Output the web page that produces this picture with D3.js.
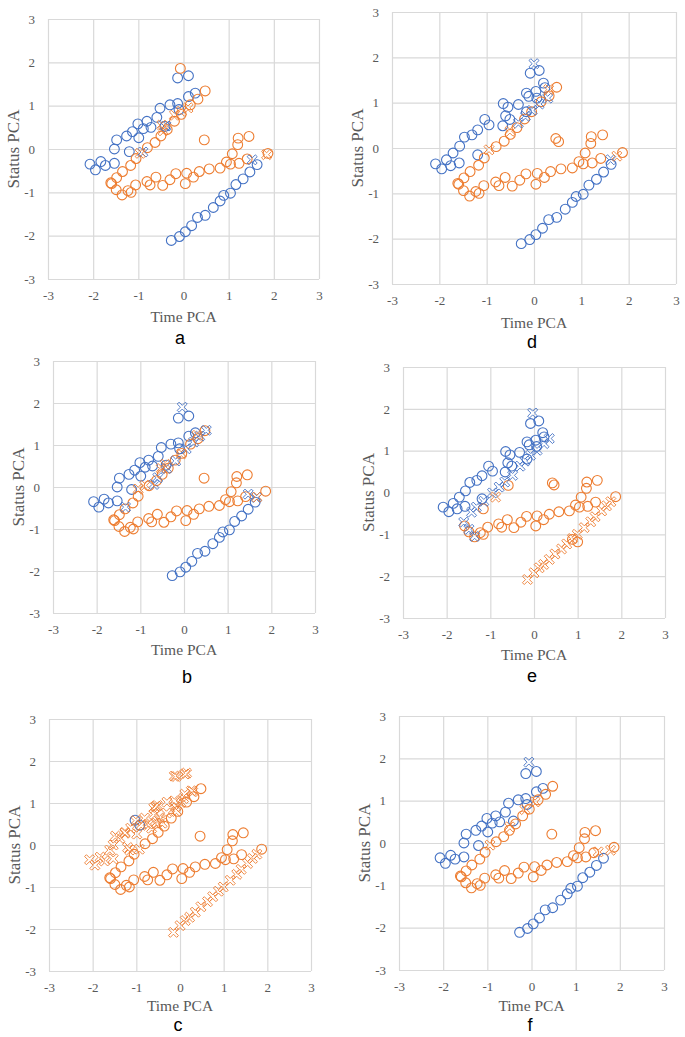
<!DOCTYPE html>
<html><head><meta charset="utf-8">
<script src="https://cdn.jsdelivr.net/npm/d3@7"></script>
<style>body{margin:0;background:#fff}svg{display:block}</style>
</head><body>
<svg id="chart" width="685" height="1037"></svg>
<script>
// ---------- data ----------
const tickValues = [-3, -2, -1, 0, 1, 2, 3];
const xTitle = "Time PCA";
const yTitle = "Status PCA";
const panelNames = ["a", "d", "b", "e", "c", "f"];

// upper-left blue band (panels a, b, c, f)
const blueBandA = [[-2.07,-0.35],[-1.95,-0.48],[-1.83,-0.29],[-1.73,-0.38],[-1.53,-0.33],[-1.53,0.0],[-1.48,0.21],[-1.26,0.30],[-1.13,0.40],[-1.20,-0.06],[-1.01,0.58],[-0.99,0.26],[-0.89,0.47],[-0.81,0.64],[-0.72,0.50],[-0.59,0.73],[-0.52,0.94],[-0.41,0.52],[-0.30,1.02],[-0.13,1.05],[-0.10,0.91],[0.11,1.21],[0.26,1.29],[-0.13,1.64],[0.11,1.69]];
// upper-left blue band (panels d, e)
const blueBandD = [[-2.08,-0.35],[-1.95,-0.46],[-1.85,-0.26],[-1.76,-0.39],[-1.58,-0.33],[-1.71,-0.11],[-1.57,0.04],[-1.47,0.24],[-1.31,0.29],[-1.19,0.40],[-1.04,0.63],[-0.95,0.51],[-1.19,-0.15],[-0.65,0.98],[-0.60,0.71],[-0.55,0.90],[-0.66,0.49],[-0.51,0.63],[-0.33,0.96],[-0.16,1.21],[-0.11,1.14],[0.04,1.25],[0.20,1.43],[0.23,1.33],[-0.08,1.65],[0.11,1.71],[-0.16,0.80],[0.06,1.10]];
// lower diagonal
const blueLow = [[-0.27,-2.11],[-0.09,-2.02],[0.04,-1.91],[0.18,-1.77],[0.31,-1.58],[0.48,-1.53],[0.66,-1.35],[0.81,-1.20],[0.89,-1.07],[1.04,-1.02],[1.16,-0.82],[1.32,-0.69],[1.47,-0.53],[1.63,-0.36]];
const lowDiagX = [[-0.15,-2.08],[0.0,-1.92],[0.12,-1.80],[0.22,-1.72],[0.35,-1.60],[0.48,-1.47],[0.63,-1.35],[0.75,-1.23],[0.88,-1.10],[0.99,-1.00],[1.15,-0.84],[1.30,-0.70],[1.40,-0.58],[1.55,-0.44],[1.66,-0.32],[1.76,-0.22]];
// orange upper diagonal
const orangeDiag = [[-1.61,-0.78],[-1.48,-0.66],[-1.35,-0.52],[-1.17,-0.38],[-1.05,-0.22],[-0.80,0.03],[-0.63,0.15],[-0.50,0.30],[-0.36,0.45],[-0.20,0.64],[-0.05,0.80],[0.15,1.02],[0.32,1.15],[0.48,1.34],[0.46,0.21]];
const orangeTopA = [[-0.07,1.86]];
// orange flat band
const orangeFlat = [[-1.59,-0.80],[-1.49,-0.94],[-1.36,-1.06],[-1.23,-0.96],[-1.16,-1.00],[-1.06,-0.83],[-0.81,-0.75],[-0.74,-0.83],[-0.61,-0.65],[-0.46,-0.84],[-0.30,-0.71],[-0.17,-0.57],[0.04,-0.80],[0.07,-0.56],[0.22,-0.65],[0.35,-0.52],[0.57,-0.46],[0.81,-0.44],[0.95,-0.30],[1.04,-0.35],[1.08,-0.11],[1.20,0.10],[1.21,0.25],[1.23,-0.33],[1.45,0.29],[1.41,-0.23],[1.87,-0.10]];
const orangeExtraD = [[0.52,0.14]];
const orangeExtraE = [[-0.59,0.17],[-1.16,-0.39],[0.42,0.23],[0.46,0.18],[0.88,-1.12],[1.00,-1.18]];
const blueExtraC = [[-1.03,0.59],[-0.92,0.47]];

// x markers per panel
const aBlueX = [[-0.90,-0.07],[-0.39,0.53],[1.52,-0.25]];
const aOrangeX = [[-0.96,-0.10],[-0.48,0.55],[-0.45,0.42],[-0.20,0.78],[-0.05,0.87],[0.10,0.95],[1.84,-0.13]];
const bBlueX = [[-0.04,1.90],[0.51,1.35],[0.36,1.21],[0.22,1.07],[0.05,0.91],[-0.19,0.62],[-0.40,0.44],[-0.60,0.22],[-0.69,0.06],[-1.34,-0.48],[1.47,-0.17],[1.66,-0.25]];
const bOrangeX = [[0.30,1.23],[-0.06,0.79],[-0.43,0.54],[-0.52,0.44],[-0.90,0.04],[-1.05,-0.05],[1.67,-0.24]];
const dBlueX = [[0.0,1.86],[0.29,1.10],[0.11,0.97],[-0.04,0.83],[-0.18,0.70],[-0.33,0.55],[1.62,-0.26]];
const dOrangeX = [[-0.95,-0.04],[-0.51,0.37],[0.31,1.29],[1.75,-0.18]];
const eBlueX = [[-0.03,1.90],[0.35,1.29],[0.23,1.17],[0.07,1.01],[-0.08,0.89],[-0.21,0.75],[-0.32,0.63],[-0.49,0.41],[-0.67,0.25],[-0.80,0.13],[-0.95,-0.01],[-1.15,-0.21],[-1.32,-0.35],[-1.43,-0.47],[-1.61,-0.71],[-1.49,-0.88],[-1.36,-1.05]];
const eOrangeX = [[-0.88,-0.11]];
const cOrangeX = [[-0.09,1.63],[0.15,1.71],[0.29,1.27],[0.08,1.11],[0.02,1.01],[-0.08,0.80],[-0.31,0.76],[-0.47,0.64],[-0.54,0.52],[-0.65,0.40],[-0.55,0.92],[-0.60,0.88],[-1.26,0.28],[-1.38,0.16],[-1.61,-0.12],[-0.93,-0.10],[-1.15,-0.12]];
const fBlueX = [[-0.06,1.91]];
const fOrangeX = [[-0.94,-0.05],[-0.49,0.38],[-0.15,0.79],[0.08,0.97],[1.51,-0.21],[1.79,-0.17]];

// ---------- layout / styles ----------
const BLUE = "#4472C4", ORANGE = "#ED7D31";
const panels = [
  {name:"a", box:[48,319,19,279], label:[180,344], titleDy:43,
   blueC:[blueBandA, blueLow], orangeC:[orangeDiag, orangeTopA, orangeFlat], blueX:[aBlueX], orangeX:[aOrangeX]},
  {name:"d", box:[392,676,12,284], label:[532,348], titleDy:44,
   blueC:[blueBandD, blueLow], orangeC:[orangeDiag, orangeFlat, orangeExtraD], blueX:[dBlueX], orangeX:[dOrangeX]},
  {name:"b", box:[53,315,361,613], label:[187,683], titleDy:42,
   blueC:[blueBandA, blueLow], orangeC:[orangeDiag, orangeFlat], blueX:[bBlueX], orangeX:[bOrangeX]},
  {name:"e", box:[403,665,367,618], label:[532,682], titleDy:42,
   blueC:[blueBandD], orangeC:[orangeFlat, orangeExtraE], blueX:[eBlueX], orangeX:[eOrangeX, lowDiagX]},
  {name:"c", box:[49,311,719,971], label:[178,1031], titleDy:40,
   blueC:[blueExtraC], orangeC:[orangeDiag, orangeFlat], blueX:[], orangeX:[blueBandA, cOrangeX, lowDiagX]},
  {name:"f", box:[399,664,716,970], label:[530,1031], titleDy:41,
   blueC:[blueBandA, blueLow], orangeC:[orangeDiag, orangeFlat], blueX:[fBlueX], orangeX:[fOrangeX]}
];

function xMarker(s, w){
  const pts = [[-w,-s],[w,-s],[w,-w],[s,-w],[s,w],[w,w],[w,s],[-w,s],[-w,w],[-s,w],[-s,-w],[-w,-w]];
  const c = Math.SQRT1_2;
  return "M" + pts.map(([x,y]) => ((x - y)*c).toFixed(2) + "," + ((x + y)*c).toFixed(2)).join("L") + "Z";
}
const X_PATH = xMarker(5.8, 1.3);

const svg = d3.select("#chart");
svg.append("rect").attr("width",685).attr("height",1037).attr("fill","#fff");

panels.forEach(p => {
  const [l, r, t, b] = p.box;
  const x = d3.scaleLinear().domain([-3,3]).range([l, r]);
  const y = d3.scaleLinear().domain([-3,3]).range([b, t]);
  const g = svg.append("g");

  const xa = g.append("g").attr("transform", `translate(0,${b})`)
    .call(d3.axisBottom(x).tickValues(tickValues).tickSize(-(b - t)).tickPadding(12).tickFormat(d => String(d)));
  const ya = g.append("g").attr("transform", `translate(${l},0)`)
    .call(d3.axisLeft(y).tickValues(tickValues).tickSize(-(r - l)).tickPadding(13).tickFormat(d => String(d)));
  [xa, ya].forEach(a => {
    a.select(".domain").remove();
    a.selectAll("line").attr("stroke", "#d9d9d9").attr("stroke-width", 1.2);
    a.selectAll("text").attr("fill", "#595959").attr("font-family", "'Liberation Serif', 'DejaVu Serif', serif").attr("font-size", 13);
  });

  const circles = (sets, color) => {
    g.append("g").selectAll("circle").data(sets.flat()).join("circle")
      .attr("cx", d => x(d[0])).attr("cy", d => y(d[1])).attr("r", 4.9)
      .attr("fill", "none").attr("stroke", color).attr("stroke-width", 1.1);
  };
  const crosses = (sets, color) => {
    g.append("g").selectAll("path").data(sets.flat()).join("path")
      .attr("d", X_PATH).attr("transform", d => `translate(${x(d[0])},${y(d[1])})`)
      .attr("fill", "none").attr("stroke", color).attr("stroke-width", 0.9);
  };
  circles(p.blueC, BLUE);
  circles(p.orangeC, ORANGE);
  crosses(p.blueX, BLUE);
  crosses(p.orangeX, ORANGE);

  g.append("text").attr("x", (l + r) / 2).attr("y", b + p.titleDy)
    .attr("text-anchor", "middle").attr("fill", "#595959")
    .attr("font-family", "'Liberation Serif', serif").attr("font-size", 15.5).text(xTitle);
  g.append("text").attr("transform", `translate(${l - 35},${(t + b) / 2}) rotate(-90)`)
    .attr("text-anchor", "middle").attr("dominant-baseline", "central").attr("fill", "#595959")
    .attr("font-family", "'Liberation Serif', serif").attr("font-size", 17).text(yTitle);
  g.append("text").attr("x", p.label[0]).attr("y", p.label[1])
    .attr("text-anchor", "middle").attr("fill", "#000")
    .attr("font-family", "'Liberation Sans', Arial, sans-serif").attr("font-size", 18).text(p.name);
});
</script>
</body></html>
